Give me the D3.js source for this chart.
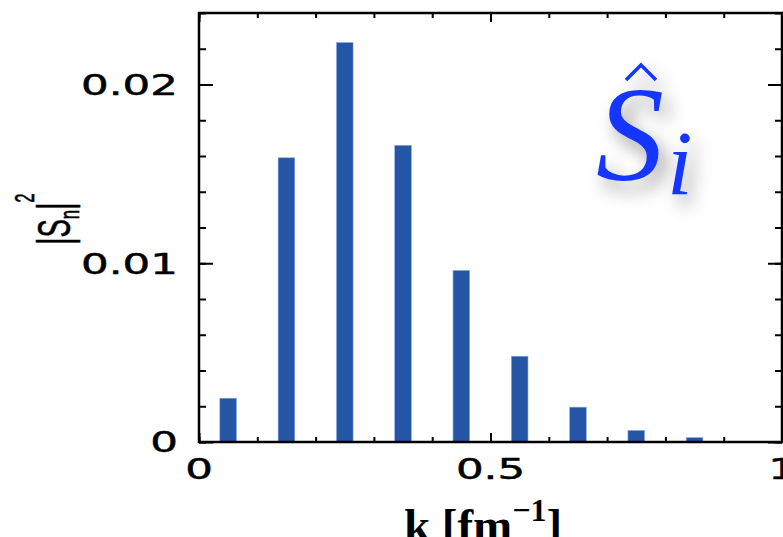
<!DOCTYPE html>
<html>
<head>
<meta charset="utf-8">
<script src="https://cdn.jsdelivr.net/npm/d3@7"></script>
<style>
  html, body { margin: 0; padding: 0; background: #fff; }
  svg { display: block; }
</style>
</head>
<body>
<div id="chart"></div>
<script>
// bar centres (k in fm^-1) and |S_n|^2
const kCenters = [0.05, 0.15, 0.25, 0.35, 0.45, 0.55, 0.65, 0.75, 0.85];
const sn2 = [0.00245, 0.0159, 0.02235, 0.0166, 0.0096, 0.0048, 0.00195, 0.00065, 0.00025];
const xMajor = [0, 0.5, 1];
const xMinor = d3.range(0, 1.0001, 0.1);
const yMajor = [0, 0.01, 0.02];
const yMinor = d3.range(0, 0.0241, 0.002);

const W = 783, H = 537;
const m = {left: 199, right: 1, top: 13, bottom: 95};

const svg = d3.select("#chart").append("svg")
  .attr("width", W).attr("height", H);

const x = d3.scaleLinear().domain([0, 1]).range([m.left, W - m.right]);
const y = d3.scaleLinear().domain([0, 0.024]).range([H - m.bottom, m.top]);

const barW = 0.0286;
const blue = "#2456a5";

// drop shadow for the S-hat label
const defs = svg.append("defs");
const f = defs.append("filter").attr("id", "shadow")
  .attr("x", "-50%").attr("y", "-50%").attr("width", "200%").attr("height", "200%");
f.append("feDropShadow").attr("dx", 7).attr("dy", 10).attr("stdDeviation", 9)
  .attr("flood-color", "#000").attr("flood-opacity", 0.38);

// bars
svg.append("g").selectAll("rect").data(kCenters).join("rect")
  .attr("x", d => x(d - barW / 2))
  .attr("width", d => x(d + barW / 2) - x(d - barW / 2))
  .attr("y", (d, i) => y(sn2[i]))
  .attr("height", (d, i) => y(0) - y(sn2[i]))
  .attr("fill", blue)
  .attr("stroke", "#8fb0e0").attr("stroke-width", 0.6);

// axes: ticks point inwards on all four sides
function tickStyle(g) {
  g.select(".domain").remove();
  g.selectAll(".tick line").attr("stroke", "#000").attr("stroke-width", 2);
}
const yH = y(0) - y(0.024);
const xW = x(1) - x(0);

svg.append("g").attr("transform", `translate(${x(0)},0)`)
  .call(d3.axisLeft(y).tickValues(yMinor).tickSize(-7).tickFormat(""))
  .call(tickStyle);
svg.append("g").attr("transform", `translate(${x(0)},0)`)
  .call(d3.axisLeft(y).tickValues(yMajor).tickSize(-14).tickFormat(""))
  .call(tickStyle);
svg.append("g").attr("transform", `translate(${x(1)},0)`)
  .call(d3.axisRight(y).tickValues(yMinor).tickSize(-7).tickFormat(""))
  .call(tickStyle);
svg.append("g").attr("transform", `translate(${x(1)},0)`)
  .call(d3.axisRight(y).tickValues(yMajor).tickSize(-14).tickFormat(""))
  .call(tickStyle);

svg.append("g").attr("transform", `translate(0,${y(0)})`)
  .call(d3.axisBottom(x).tickValues(xMinor).tickSize(-5).tickFormat(""))
  .call(tickStyle);
svg.append("g").attr("transform", `translate(0,${y(0)})`)
  .call(d3.axisBottom(x).tickValues(xMajor).tickSize(-9).tickFormat(""))
  .call(tickStyle);
svg.append("g").attr("transform", `translate(0,${y(0.024)})`)
  .call(d3.axisTop(x).tickValues(xMinor).tickSize(-5).tickFormat(""))
  .call(tickStyle);
svg.append("g").attr("transform", `translate(0,${y(0.024)})`)
  .call(d3.axisTop(x).tickValues(xMajor).tickSize(-9).tickFormat(""))
  .call(tickStyle);

// frame
svg.append("rect")
  .attr("x", x(0)).attr("y", y(0.024))
  .attr("width", xW).attr("height", yH)
  .attr("fill", "none").attr("stroke", "#000").attr("stroke-width", 2.5);

// tick labels (wide, rounded look -> stretch horizontally)
const fmtY = d => d === 0 ? "0" : d3.format(".2f")(d);
const fmtX = d => d === 0 || d === 1 ? String(d) : d3.format(".1f")(d);
const stretch = 1.5;

const yl = svg.append("g").selectAll("text").data(yMajor).join("text")
  .attr("x", x(0) - 21).attr("y", d => y(d))
  .attr("dy", "0.36em")
  .attr("text-anchor", "end")
  .attr("font-family", "DejaVu Sans").attr("font-size", 29)
  .attr("stroke", "#000").attr("stroke-width", 0.5)
  .text(fmtY);

const xl = svg.append("g").selectAll("text").data(xMajor).join("text")
  .attr("x", d => x(d)).attr("y", y(0) + 37)
  .attr("text-anchor", "middle")
  .attr("font-family", "DejaVu Sans").attr("font-size", 29)
  .attr("stroke", "#000").attr("stroke-width", 0.5)
  .text(fmtX);

yl.each(function() {
  const w = this.getComputedTextLength();
  d3.select(this).attr("textLength", w * stretch).attr("lengthAdjust", "spacingAndGlyphs");
});
xl.each(function() {
  const w = this.getComputedTextLength();
  d3.select(this).attr("textLength", w * stretch).attr("lengthAdjust", "spacingAndGlyphs");
});

// y title |S_n|^2
const yt = svg.append("text")
  .attr("transform", "translate(70,219) rotate(-90) scale(0.6,1)")
  .attr("text-anchor", "middle")
  .attr("font-family", "Liberation Sans").attr("font-size", 46)
  .attr("stroke", "#000").attr("stroke-width", 0.6);
yt.append("tspan").text("|S");
yt.append("tspan").attr("font-size", 28).attr("dy", 9).text("n");
yt.append("tspan").attr("dy", -9).text("|");
yt.append("tspan").attr("font-size", 28).attr("dy", -36).text("2");

// x title k [fm^-1]
const xt = svg.append("text")
  .attr("x", 483).attr("y", 541)
  .attr("text-anchor", "middle")
  .attr("font-family", "Liberation Serif").attr("font-weight", "bold")
  .attr("font-size", 47);
xt.append("tspan").text("k [fm");
xt.append("tspan").attr("font-size", 32).attr("dy", -20).text("\u22121");
xt.append("tspan").attr("dy", 20).text("]");

// S-hat_i label
const lab = svg.append("g").attr("filter", "url(#shadow)").attr("fill", "#1236ff");
lab.append("text")
  .attr("x", 596).attr("y", 180)
  .attr("font-family", "Liberation Serif").attr("font-style", "italic")
  .attr("font-size", 136)
  .text("S");
lab.append("path")
  .attr("d", "M626,80 L641,65 L656,80")
  .attr("fill", "none").attr("stroke", "#1236ff").attr("stroke-width", 3.5);
lab.append("text")
  .attr("x", 667).attr("y", 194)
  .attr("font-family", "Liberation Serif").attr("font-style", "italic")
  .attr("font-size", 92)
  .text("i");
</script>
</body>
</html>
